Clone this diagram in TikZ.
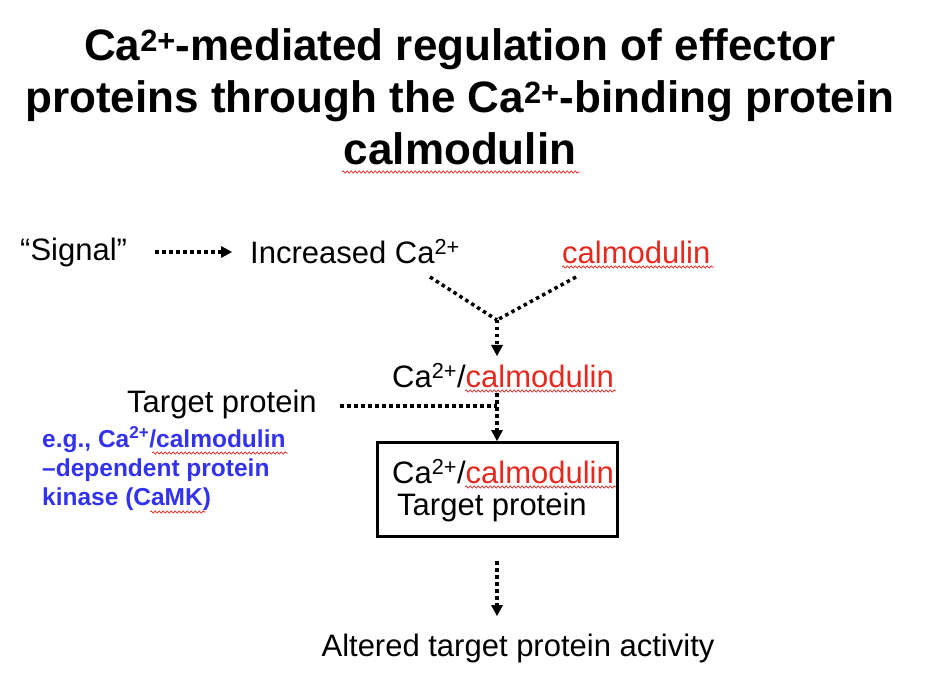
\documentclass[tikz,border=0pt]{standalone}
\usepackage{fontspec}
\setmainfont{Liberation Sans}
\usetikzlibrary{arrows.meta,decorations.pathmorphing}
\definecolor{myred}{RGB}{230,40,30}
\definecolor{myblue}{RGB}{50,50,240}
\tikzset{
  dots/.style={line width=3.5pt,dash pattern=on 3.5pt off 3.5pt},
  arr/.style={dots,-{Triangle[length=11pt,width=12pt,line width=0pt]}},
  txt/.style={font=\fontsize{31}{34}\selectfont,inner sep=0pt,anchor=west},
  btxt/.style={font=\bfseries\fontsize{24.5}{29}\selectfont,text=myblue,inner sep=0pt,anchor=west,align=left},
  wavy/.style={draw=myred,line width=0.7pt,decorate,decoration={snake,amplitude=1.2pt,segment length=4pt}}
}
\begin{document}
\begin{tikzpicture}[x=1pt,y=-1pt]
\useasboundingbox (0,0) rectangle (942,684);
\node[font=\bfseries\fontsize{44}{52}\selectfont,align=center] (title) at (460,97)
 {Ca\textsuperscript{2+}-mediated regulation of effector\\proteins through the Ca\textsuperscript{2+}-binding protein\\calmodulin};
\draw[wavy] (342,172) -- (580,172);
\node[txt] (sig) at (20,252) {“Signal”};
\node[txt] (inc) at (250,252) {Increased Ca\textsuperscript{2+}};
\node[txt,text=myred] (cal) at (562,252) {calmodulin};
\draw[wavy] (562,267) -- (714,267);
\coordinate (j) at (497,320);
\node[txt] (cc) at (392,376) {Ca\textsuperscript{2+}/\textcolor{myred}{calmodulin}};
\draw[wavy] (465,391) -- (616,391);
\node[txt] (tp) at (127,404) {Target protein};
\coordinate (j2) at (497,406);
\node[draw,line width=3pt,minimum width=240pt,minimum height=94pt,anchor=north west] (box) at (376,441) {};
\node[txt] (bc) at (392,472) {Ca\textsuperscript{2+}/\textcolor{myred}{calmodulin}};
\draw[wavy] (465,487) -- (616,487);
\node[txt] (bt) at (397,507) {Target protein};
\node[btxt] (eg) at (42,469) {e.g., Ca\textsuperscript{2+}/calmodulin\\–dependent protein\\kinase (CaMK)};
\draw[wavy] (152,453) -- (288,453);
\draw[wavy] (150,512) -- (206,512);
\node[txt,anchor=center] (alt) at (518,648) {Altered target protein activity};
\draw[arr] (155,252) -- (232,252);
\draw[dots] (430,277) -- (j);
\draw[dots] (576,277) -- (j);
\draw[arr] (j) -- (497,356);
\draw[dots] (340,406) -- (j2);
\draw[arr] (497,393) -- (box.north -| j);
\draw[arr] (497,561) -- (497,616);
\end{tikzpicture}
\end{document}
